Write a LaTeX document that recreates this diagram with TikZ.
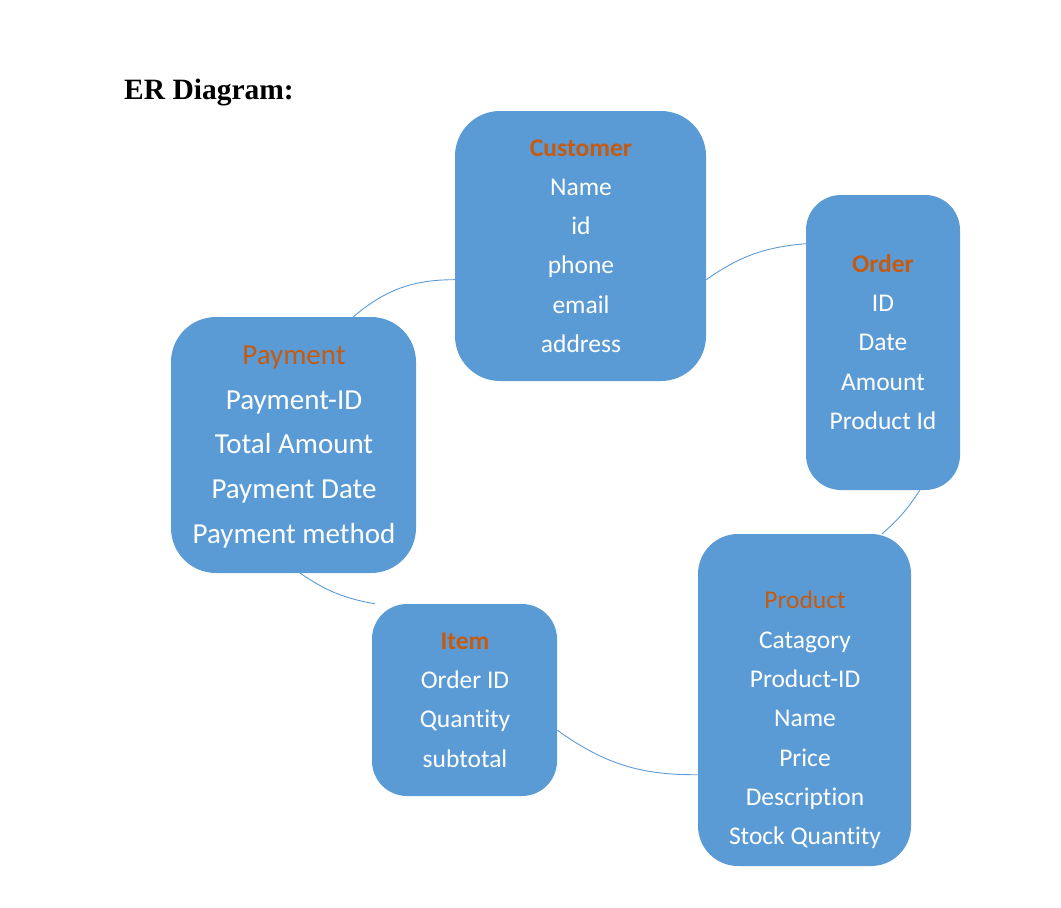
\documentclass[tikz,border=0pt]{standalone}
\usepackage{fontspec}
\setmainfont{Carlito}[Ligatures=CommonOff]
\newfontfamily\titlefont{Liberation Serif}
\usetikzlibrary{positioning}
\definecolor{boxblue}{RGB}{91,155,213}
\definecolor{titleorange}{RGB}{197,90,17}

\begin{document}
\begin{tikzpicture}[x=1pt, y=-1pt,
  entity/.style={fill=boxblue, rounded corners=#1, inner sep=0pt},
  attrs/.style={text=white, align=center, inner sep=0pt, font=\fontsize{25.5}{39.3}\selectfont},
  bigattrs/.style={attrs, font=\fontsize{29}{44.7}\selectfont},
  link/.style={boxblue, line width=0.9pt}]
  \useasboundingbox (0,0) rectangle (1061,908);
  \node[anchor=base west, inner sep=0pt, font={\fontsize{29.5}{34}\selectfont\titlefont\bfseries}] (title) at (124,99) {ER Diagram:};
  % entity boxes
  \node[entity=45pt, minimum width=251pt, minimum height=270pt] (customer) at (580.5,246) {};
  \node[entity=35pt, minimum width=154pt, minimum height=295pt] (order) at (883,342.5) {};
  \node[entity=45pt, minimum width=245pt, minimum height=256pt] (payment) at (293.5,445) {};
  \node[entity=35pt, minimum width=185pt, minimum height=192pt] (item) at (464.5,700) {};
  \node[entity=40pt, minimum width=213pt, minimum height=332pt] (product) at (804.5,700) {};
  % attributes
  \node[attrs] (customertxt) at (581,246) {{\bfseries\color{titleorange}Customer}\\Name\\id\\phone\\email\\address};
  \node[attrs] (ordertxt) at (883,342) {{\bfseries\color{titleorange}Order}\\ID\\Date\\Amount\\Product Id};
  \node[bigattrs] (paymenttxt) at (294,447) {{\color{titleorange}Payment}\\Payment-ID\\Total Amount\\Payment Date\\Payment method};
  \node[attrs] (itemtxt) at (465,700) {{\bfseries\color{titleorange}Item}\\Order ID\\Quantity\\subtotal};
  \node[attrs] (producttxt) at (805,720) {{\color{titleorange}Product}\\Catagory\\Product-ID\\Name\\Price\\Description\\Stock Quantity};
  % relations
  \draw[link] (payment.65) to[bend left=20] (customer.195);
  \draw[link] (customer.345) to[bend left=15] (order.128);
  \draw[link] (order.284) to[bend left=8] (product.65);
  \draw[link] (product.215) to[bend left=18] (item.342);
  \draw[link] (item.133) to[bend left=12] (payment.273);
\end{tikzpicture}
\end{document}
